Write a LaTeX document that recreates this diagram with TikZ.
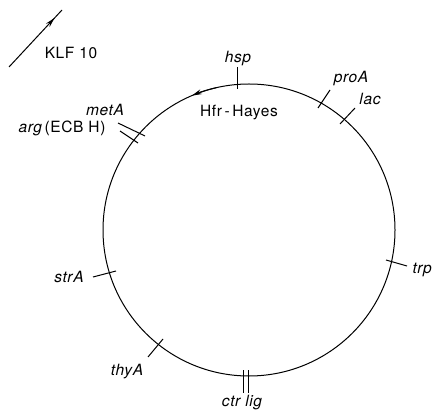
\documentclass[tikz,border=0pt]{standalone}
\usepackage{fontspec}
\setmainfont{TeX Gyre Heros}[LetterSpace=4]
\usetikzlibrary{arrows.meta,decorations.markings}
\begin{document}
\begin{tikzpicture}[x=1pt,y=-1pt,
  line width=1pt,
  lbl/.style={font=\fontsize{15.5}{17}\selectfont, inner sep=0pt, anchor=base},
  gene/.style={lbl, font=\fontsize{15.5}{17}\selectfont\itshape},
  tick/.style={line width=1pt},
  tip/.style={-{Stealth[length=10pt,width=5pt]}}]
\useasboundingbox (0,0) rectangle (433,411);
\coordinate (c) at (249,230);
\draw (c) circle[radius=146];
% direction arrow on the chromosome
\draw[tip] (c) ++(-103:146) arc[start angle=-103, end angle=-113, radius=146];
\node[lbl] (hfr) at (239,117) {Hfr{\,}-{\,}Hayes};
% KLF 10 arrow
\coordinate (k0) at (9,67);
\coordinate (k1) at (62,10);
\draw[postaction={decorate},decoration={markings,mark=at position 0.86 with {\arrow{Stealth[length=10pt,width=5pt]}}}] (k0) -- (k1);
\node[lbl] (klf) at (71,59) {KLF 10};
% ticks
\draw[tick] (237,67) -- (237,89);
\node[gene] (hsp) at (238,63) {hsp};
\draw[tick] (318,108) -- (330,90);
\node[gene] (proA) at (351,83) {proA};
\draw[tick] (340,124) -- (355,108);
\node[gene] (lac) at (370,105) {lac};
\draw[tick] (386,260) -- (407,266);
\node[gene, anchor=base west] (trp) at (412,273) {trp};
\draw[tick] (243,370) -- (243,393);
\draw[tick] (248,370) -- (248,393);
\node[gene] (ctrlig) at (242,406) {ctr lig};
\draw[tick] (148,357) -- (163,339);
\node[gene] (thyA) at (127,375) {thyA};
\draw[tick] (93,277) -- (116,271);
\node[gene] (strA) at (69,283) {strA};
\draw[tick] (118,123) -- (145,136);
\node[gene] (metA) at (105,116) {metA};
\draw[tick] (120,131) -- (138,143);
\node[lbl] (arg) at (62,133) {\itshape arg\upshape\,(ECB H)};
\end{tikzpicture}
\end{document}
